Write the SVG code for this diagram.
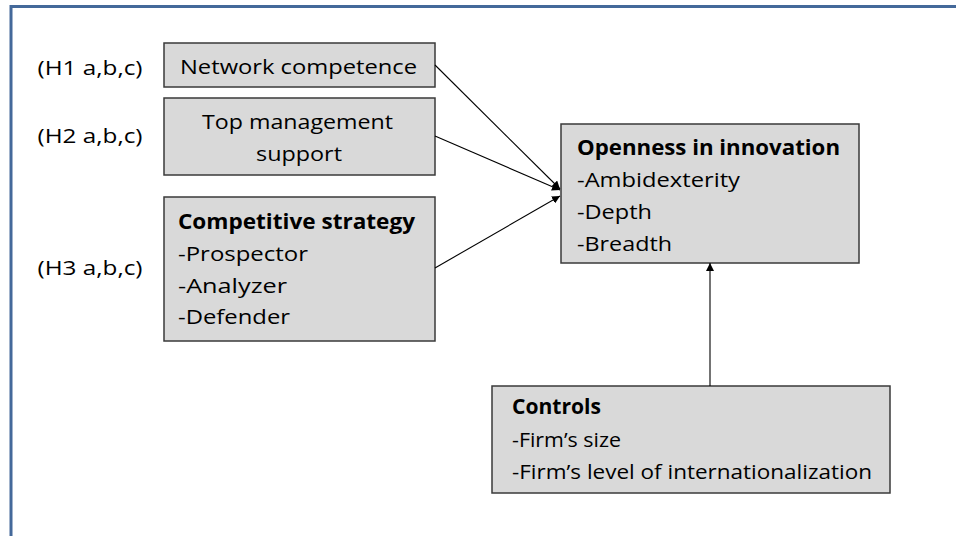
<svg xmlns="http://www.w3.org/2000/svg" width="956" height="536" viewBox="0 0 956 536">
<style>
.box{fill:#d9d9d9;stroke:#3a3a3a;stroke-width:1.5}
.t{font-family:"Open Sans","Liberation Sans",sans-serif;font-size:20.5px;fill:#000}
.b{font-weight:bold}
.c{stroke:#000;stroke-width:1.1;fill:none;marker-end:url(#ah)}
.frame{stroke:#44699a;stroke-width:3;fill:none}
</style>
<defs>
<marker id="ah" viewBox="0 0 10 10" refX="10" refY="5" markerWidth="8" markerHeight="8" markerUnits="userSpaceOnUse" orient="auto">
<path d="M0,0 L10,5 L0,10 z" fill="#000"/>
</marker>
</defs>
<rect width="956" height="536" fill="#fff"/>
<path class="frame" d="M11,536 V6.5 H956"/>

<g id="label-h1"><text class="t" x="37.5" y="75" textLength="105" lengthAdjust="spacingAndGlyphs">(H1 a,b,c)</text></g>
<g id="label-h2"><text class="t" x="37.5" y="143" textLength="105" lengthAdjust="spacingAndGlyphs">(H2 a,b,c)</text></g>
<g id="label-h3"><text class="t" x="37.5" y="275" textLength="105" lengthAdjust="spacingAndGlyphs">(H3 a,b,c)</text></g>

<g id="network-competence">
<rect class="box" x="164" y="43" width="271" height="44"/>
<text class="t" x="180" y="74" textLength="237" lengthAdjust="spacingAndGlyphs">Network competence</text>
</g>

<g id="top-management">
<rect class="box" x="164" y="98" width="271" height="77"/>
<text class="t" x="202" y="129" textLength="191" lengthAdjust="spacingAndGlyphs">Top management</text>
<text class="t" x="256" y="161" textLength="86" lengthAdjust="spacingAndGlyphs">support</text>
</g>

<g id="competitive-strategy">
<rect class="box" x="164" y="197" width="271" height="144"/>
<text class="t b" x="178" y="229" textLength="237" lengthAdjust="spacingAndGlyphs">Competitive strategy</text>
<text class="t" x="178" y="261" textLength="130" lengthAdjust="spacingAndGlyphs">-Prospector</text>
<text class="t" x="178" y="293" textLength="109" lengthAdjust="spacingAndGlyphs">-Analyzer</text>
<text class="t" x="178" y="324" textLength="112" lengthAdjust="spacingAndGlyphs">-Defender</text>
</g>

<g id="openness">
<rect class="box" x="561" y="124" width="298" height="139"/>
<text class="t b" x="577" y="155" textLength="263" lengthAdjust="spacingAndGlyphs">Openness in innovation</text>
<text class="t" x="577" y="187" textLength="163" lengthAdjust="spacingAndGlyphs">-Ambidexterity</text>
<text class="t" x="577" y="219" textLength="75" lengthAdjust="spacingAndGlyphs">-Depth</text>
<text class="t" x="577" y="251" textLength="95" lengthAdjust="spacingAndGlyphs">-Breadth</text>
</g>

<g id="controls">
<rect class="box" x="492" y="386" width="398" height="107"/>
<text class="t b" x="512" y="414" textLength="89" lengthAdjust="spacingAndGlyphs">Controls</text>
<text class="t" x="512" y="447" textLength="109" lengthAdjust="spacingAndGlyphs">-Firm’s size</text>
<text class="t" x="512" y="479" textLength="360" lengthAdjust="spacingAndGlyphs">-Firm’s level of internationalization</text>
</g>

<g id="connectors">
<line class="c" x1="435" y1="65" x2="560" y2="189"/>
<line class="c" x1="435" y1="136" x2="560" y2="190"/>
<line class="c" x1="435" y1="268" x2="560" y2="196"/>
<line class="c" x1="710" y1="386" x2="710" y2="263"/>
</g>
</svg>
